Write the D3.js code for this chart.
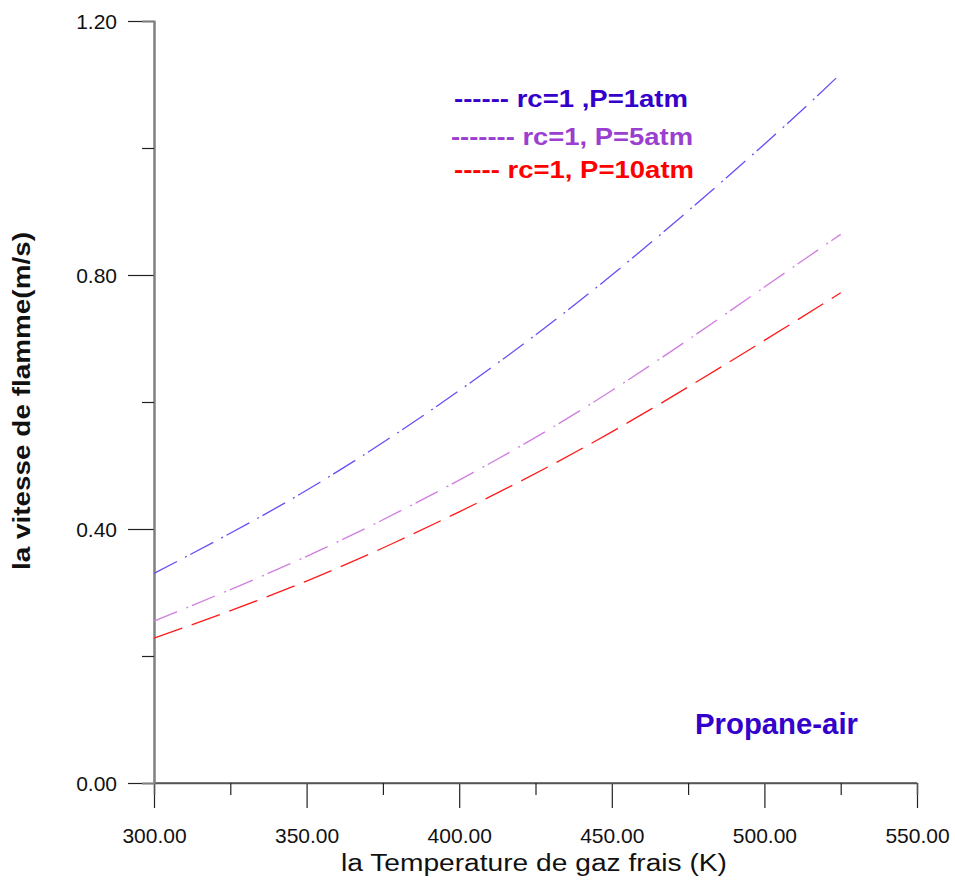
<!DOCTYPE html>
<html><head><meta charset="utf-8">
<script src="https://cdn.jsdelivr.net/npm/d3@7/dist/d3.min.js"></script>
<style>body{margin:0;background:#fff}svg{display:block}text{font-family:Arial,"Liberation Sans",sans-serif}</style>
</head><body>
<script>
const temps = [300, 350, 400, 450, 500, 525];
const p1atm = [0.330, 0.461, 0.618, 0.800, 1.006, 1.117];
const p5atm = [0.255, 0.357, 0.477, 0.618, 0.781, 0.864];
const p10atm = [0.228, 0.318, 0.427, 0.553, 0.697, 0.772];
const xMajor = [300, 350, 400, 450, 500, 550];
const xMinor = [325, 375, 425, 475, 525];
const yMajor = [0, 0.4, 0.8, 1.2];
const yMinor = [0.2, 0.6, 1.0];
const legendLabels = ["------ rc=1 ,P=1atm", "------- rc=1, P=5atm", "----- rc=1, P=10atm"];

const W = 955, H = 882;
const svg = d3.select("body").append("svg").attr("width", W).attr("height", H);
const x = d3.scaleLinear().domain([300, 550]).range([154, 917]);
const y = d3.scaleLinear().domain([0, 1.2]).range([783, 21]);

// axes
const gx = svg.append("g").attr("transform", "translate(0,783)");
gx.call(d3.axisBottom(x).tickValues(xMajor).tickSize(25).tickSizeOuter(0).tickFormat(d3.format(".2f")));
gx.append("g").call(d3.axisBottom(x).tickValues(xMinor).tickSize(12).tickFormat(""));
gx.selectAll(".domain").attr("stroke", "#555").attr("stroke-width", 1.5);
gx.selectAll(".tick line").attr("stroke", "#222").attr("stroke-width", 1.2);
gx.selectAll(".tick text").attr("font-size", 21).attr("fill", "#111").attr("dy", "0").attr("y", 60);
gx.select(".domain").attr("d", "M154,0H917");

const gy = svg.append("g").attr("transform", "translate(154,0)");
gy.call(d3.axisLeft(y).tickValues(yMajor).tickSize(26).tickSizeOuter(0).tickFormat(d3.format(".2f")));
gy.append("g").call(d3.axisLeft(y).tickValues(yMinor).tickSize(12).tickFormat(""));
gy.selectAll(".domain").attr("stroke", "#808080").attr("stroke-width", 2);
gy.selectAll(".tick line").attr("stroke", "#222").attr("stroke-width", 1.2);
gy.selectAll(".tick text").attr("font-size", 21).attr("fill", "#111").attr("x", -37).attr("dy", "0.35em");

// series
const series = [
  {vals: p1atm, color: "#6a4cf5", dash: "26,9,2,4"},
  {vals: p5atm, color: "#d07ee0", dash: "25,10,2,4"},
  {vals: p10atm, color: "#ff1a1a", dash: "30,10"}
];
const line = d3.line().x(d => x(d[0])).y(d => y(d[1])).curve(d3.curveNatural);
series.forEach(s => {
  svg.append("path").attr("d", line(temps.map((t, i) => [t, s.vals[i]])))
    .attr("fill", "none").attr("stroke", s.color).attr("stroke-width", 1.3)
    .attr("stroke-dasharray", s.dash);
});

// legend
const leg = [
  {x: 454, y: 107, w: 234, color: "#3300cc"},
  {x: 451, y: 145, w: 242, color: "#9b3fd0"},
  {x: 454, y: 178, w: 240, color: "#ff0000"}
];
leg.forEach((l, i) => {
  svg.append("text").attr("x", l.x).attr("y", l.y).attr("fill", l.color)
    .attr("font-size", 24).attr("font-weight", "bold")
    .attr("textLength", l.w).attr("lengthAdjust", "spacingAndGlyphs")
    .text(legendLabels[i]);
});

svg.append("text").attr("x", 695).attr("y", 734).attr("fill", "#3300cc")
  .attr("font-size", 29).attr("font-weight", "bold")
  .attr("textLength", 163).attr("lengthAdjust", "spacingAndGlyphs")
  .text("Propane-air");

// axis titles
svg.append("text").attr("x", 534).attr("y", 871).attr("text-anchor", "middle")
  .attr("font-size", 23).attr("fill", "#111")
  .attr("textLength", 386).attr("lengthAdjust", "spacingAndGlyphs")
  .text("la Temperature de gaz frais (K)");
svg.append("text").attr("transform", "translate(30,401) rotate(-90)").attr("text-anchor", "middle")
  .attr("font-size", 23).attr("font-weight", "bold").attr("fill", "#111")
  .attr("textLength", 338).attr("lengthAdjust", "spacingAndGlyphs")
  .text("la vitesse de flamme(m/s)");
</script>
</body></html>
